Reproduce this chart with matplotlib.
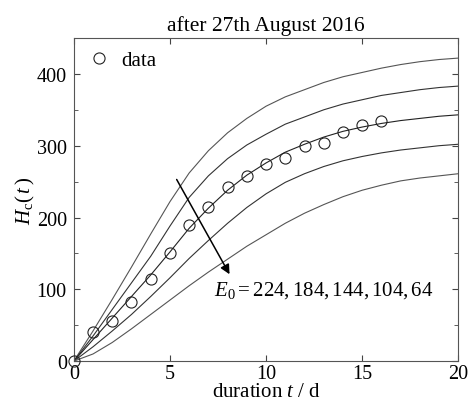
import numpy as np
import matplotlib
matplotlib.use("Agg")
import matplotlib.pyplot as plt

plt.rcParams["font.family"] = ["Liberation Serif", "DejaVu Serif"]
plt.rcParams["mathtext.fontset"] = "custom"
plt.rcParams["mathtext.rm"] = "Liberation Serif"
plt.rcParams["mathtext.it"] = "Liberation Serif:italic"

# observed data
t_data = [0, 1, 2, 3, 4, 5, 6, 7, 8, 9, 10, 11, 12, 13, 14, 15, 16]
h_data = [0, 41, 56, 82, 115, 151, 189, 215, 242, 258, 275, 283, 300, 304, 319, 329, 334]

# model curves, one per E0
t_curve = list(range(0, 21))
h_224 = [0, 42, 86, 131, 177, 222, 262, 293, 318, 338, 355, 368, 378, 388, 396, 402, 408, 413, 417, 420, 422]
h_184 = [0, 35, 72, 109, 146, 188, 228, 258, 282, 301, 316, 330, 340, 350, 358, 364, 370, 374, 378, 381, 383]
h_144 = [0, 30, 60, 90, 120, 152, 185, 213, 238, 259, 276, 291, 302, 312, 320, 326, 331, 335, 338, 341, 343]
h_104 = [0, 20, 42, 65, 90, 116, 143, 168, 192, 214, 233, 249, 261, 271, 279, 285, 290, 294, 297, 300, 302]
h_64 = [0, 10, 26, 45, 65, 85, 105, 124, 142, 160, 176, 192, 206, 218, 229, 238, 245, 251, 255, 258, 261]

fig = plt.figure(figsize=(4.73, 4.06), dpi=100)
ax = fig.add_axes([0.156, 0.108, 0.813, 0.796])

curves = [h_224, h_184, h_144, h_104, h_64]
shades = ["#555555", "#333333", "#222222", "#333333", "#555555"]
for h, c in zip(curves, shades):
    ax.plot(t_curve, h, color=c, lw=0.8)

ax.plot(t_data, h_data, "o", mfc="none", mec="#222222", ms=8, mew=0.8,
        clip_on=False, label="data", zorder=3)

ax.annotate("", xy=(8.1, 121), xytext=(5.35, 253),
            arrowprops=dict(arrowstyle="-|>", color="black", lw=1.1,
                            mutation_scale=14, shrinkA=0, shrinkB=0))
ax.text(7.3, 100, r"$E_0 = 224, 184, 144, 104, 64$", fontsize=15, va="center")

ax.set_xlim(0, 20)
ax.set_ylim(0, 450)
ax.set_xticks([0, 5, 10, 15, 20])
ax.set_yticks([0, 100, 200, 300, 400])
ax.set_yticks([50, 150, 250, 350, 450], minor=True)
ax.tick_params(which="both", direction="in", top=True, right=True,
               labelsize=14.5, color="#444444")
ax.tick_params(axis="x", pad=2)
ax.tick_params(axis="y", pad=5)
ax.tick_params(which="major", length=4)
ax.tick_params(which="minor", length=3)
for s in ax.spines.values():
    s.set_color("#555555")
    s.set_linewidth(0.8)

ax.set_xlabel(r"duration $t$ / d", fontsize=15, labelpad=-1)
ax.set_ylabel(r"$H_{\mathrm{c}}(\,t\,)$", fontsize=15, labelpad=0)
ax.set_title("after 27th August 2016", fontsize=15.5, pad=6)
ax.legend(loc="upper left", frameon=False, fontsize=15, handletextpad=0.5,
          borderaxespad=0.2, handlelength=1.2)

fig.savefig("out.png", dpi=100)
